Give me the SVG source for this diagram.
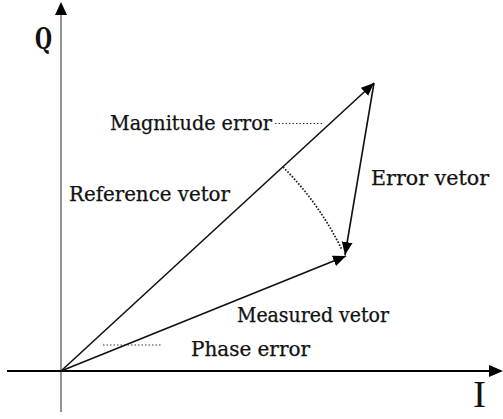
<svg xmlns="http://www.w3.org/2000/svg" width="503" height="419" viewBox="0 0 503 419">
<defs>
<style>
.t{font-family:"DejaVu Serif Condensed","DejaVu Serif",serif;font-stretch:condensed;font-size:20px;fill:#111;stroke:#111;stroke-width:0.25}
.q{font-size:30px;font-weight:bold;stroke-width:0}
.i{font-family:"Liberation Serif",serif;font-stretch:normal;font-size:37px;stroke-width:0}
.vec{stroke:#111;stroke-width:1.6;fill:none}
.dot{stroke:#333;stroke-width:1;stroke-dasharray:1.5 2;fill:none}
.arc{stroke:#222;stroke-width:1.8;stroke-dasharray:1.6 1.6;fill:none}
</style>
<marker id="ah" markerUnits="userSpaceOnUse" markerWidth="14" markerHeight="12" refX="13" refY="5.5" orient="auto">
<path d="M0,0 L13,5.5 L0,11 z" fill="#000"/>
</marker>
</defs>
<rect width="503" height="419" fill="#fff"/>
<g id="axes">
<line x1="61" y1="412" x2="61" y2="14" stroke="#888" stroke-width="1.8"/>
<path d="M55,15 L61,2 L67,15 z" fill="#000"/>
<line x1="7" y1="371" x2="490" y2="371" stroke="#000" stroke-width="2"/>
<path d="M489,365 L503,371 L489,377 z" fill="#000"/>
</g>
<g id="connectors">
<line id="reference-vector" class="vec" x1="61" y1="371" x2="374" y2="83" marker-end="url(#ah)"/>
<line id="measured-vector" class="vec" x1="61" y1="371" x2="346" y2="256" marker-end="url(#ah)"/>
<line id="error-vector" class="vec" x1="374" y1="83" x2="345" y2="255" marker-end="url(#ah)"/>
<path id="phase-arc" class="arc" d="M283,167 A303,303 0 0 1 342,250"/>
<line class="dot" x1="275" y1="123.5" x2="323" y2="123.5"/>
<line class="dot" x1="103" y1="345" x2="162" y2="345"/>
</g>
<g id="label-Q"><text class="t q" x="35" y="49" textLength="17" lengthAdjust="spacingAndGlyphs">Q</text></g>
<g id="label-I"><text class="t i" x="473" y="407" textLength="13" lengthAdjust="spacingAndGlyphs">I</text></g>
<g id="magnitude-error"><text class="t" x="110" y="130" textLength="162" lengthAdjust="spacingAndGlyphs">Magnitude error</text></g>
<g id="reference-vetor"><text class="t" x="69" y="201" textLength="161" lengthAdjust="spacingAndGlyphs">Reference vetor</text></g>
<g id="error-vetor"><text class="t" x="371" y="185" textLength="118" lengthAdjust="spacingAndGlyphs">Error vetor</text></g>
<g id="measured-vetor"><text class="t" x="237" y="322" textLength="152" lengthAdjust="spacingAndGlyphs">Measured vetor</text></g>
<g id="phase-error"><text class="t" x="191" y="356" textLength="119" lengthAdjust="spacingAndGlyphs">Phase error</text></g>
</svg>
